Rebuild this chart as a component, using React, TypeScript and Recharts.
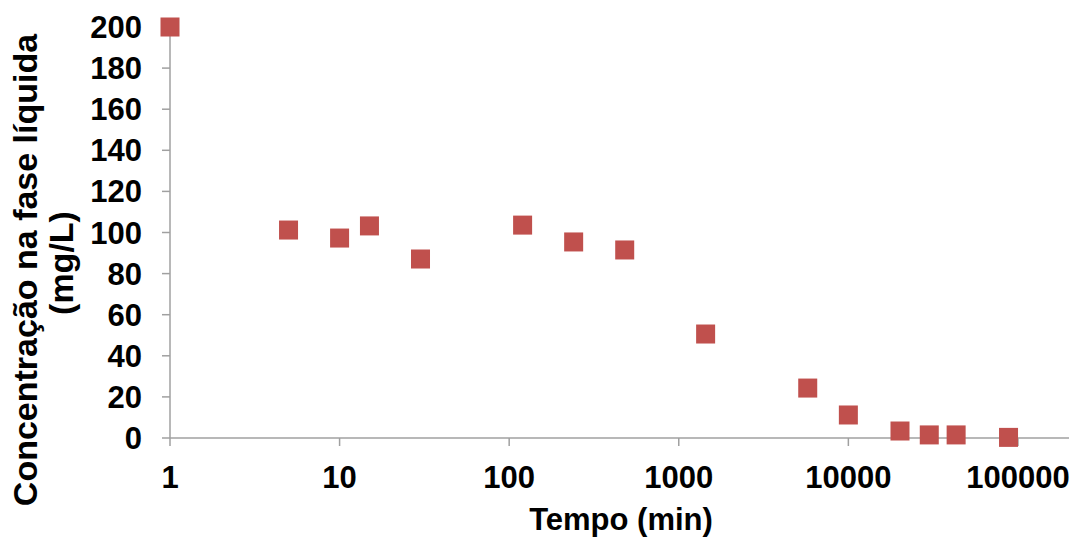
import React from 'react';
import { ScatterChart, Scatter, XAxis, YAxis, Label } from 'recharts';

const tempo = [1, 5, 10, 15, 30, 120, 240, 480, 1440, 5760, 10000, 20160, 30000, 43200, 88000];
const concentracao = [200, 101.2, 97.3, 103.2, 87.1, 103.6, 95.4, 91.5, 50.6, 24.3, 11.2, 3.4, 1.5, 1.5, 0.3];
const xTicks = [1, 10, 100, 1000, 10000, 100000];
const yTicks = [0, 20, 40, 60, 80, 100, 120, 140, 160, 180, 200];

const data = tempo.map((t, i) => ({ t, c: concentracao[i] }));

const FONT = '"Liberation Sans", Arial, sans-serif';
const AXIS = '#A0A0A0';
const RED = '#C0504D';

const Square = (props: any) => {
  const { cx, cy } = props;
  if (cx == null || cy == null) return null;
  return <rect x={cx - 9.5} y={cy - 9.5} width={19} height={19} fill={RED} />;
};

// two-line rotated title, placed like the Excel original
const YTitle = () => (
  <g fontFamily={FONT} fontWeight="bold" fontSize={34} fill="#000">
    <text x={37} y={270} textAnchor="middle" transform="rotate(-90, 37, 270)">
      Concentração na fase líquida
    </text>
    <text x={73} y={263} textAnchor="middle" transform="rotate(-90, 73, 263)">
      (mg/L)
    </text>
  </g>
);

const XTitle = () => (
  <text x={621} y={530} textAnchor="middle" fontFamily={FONT} fontWeight="bold" fontSize={31} fill="#000">
    Tempo (min)
  </text>
);

export default function App() {
  return (
    <div style={{ position: 'absolute', left: 0, top: 0, background: '#fff' }}>
      <ScatterChart width={1075} height={538} margin={{ top: 27, right: 6, bottom: 0, left: 0 }}>
        <XAxis
          type="number"
          dataKey="t"
          scale="log"
          domain={[1, 200000]}
          ticks={xTicks}
          height={100}
          stroke={AXIS}
          strokeWidth={1.5}
          tickSize={8}
          tickMargin={20}
          tickFormatter={(v: number) => String(v)}
          tick={{ fill: '#000', fontSize: 31, fontWeight: 'bold', fontFamily: FONT }}
        >
          <Label content={<XTitle />} />
        </XAxis>
        <YAxis
          type="number"
          dataKey="c"
          domain={[0, 200]}
          ticks={yTicks}
          width={170}
          stroke={AXIS}
          strokeWidth={1.5}
          tickSize={8}
          tickMargin={20}
          tick={{ fill: '#000', fontSize: 31, fontWeight: 'bold', fontFamily: FONT }}
        >
          <Label content={<YTitle />} />
        </YAxis>
        <Scatter data={data} shape={<Square />} isAnimationActive={false} />
      </ScatterChart>
    </div>
  );
}
